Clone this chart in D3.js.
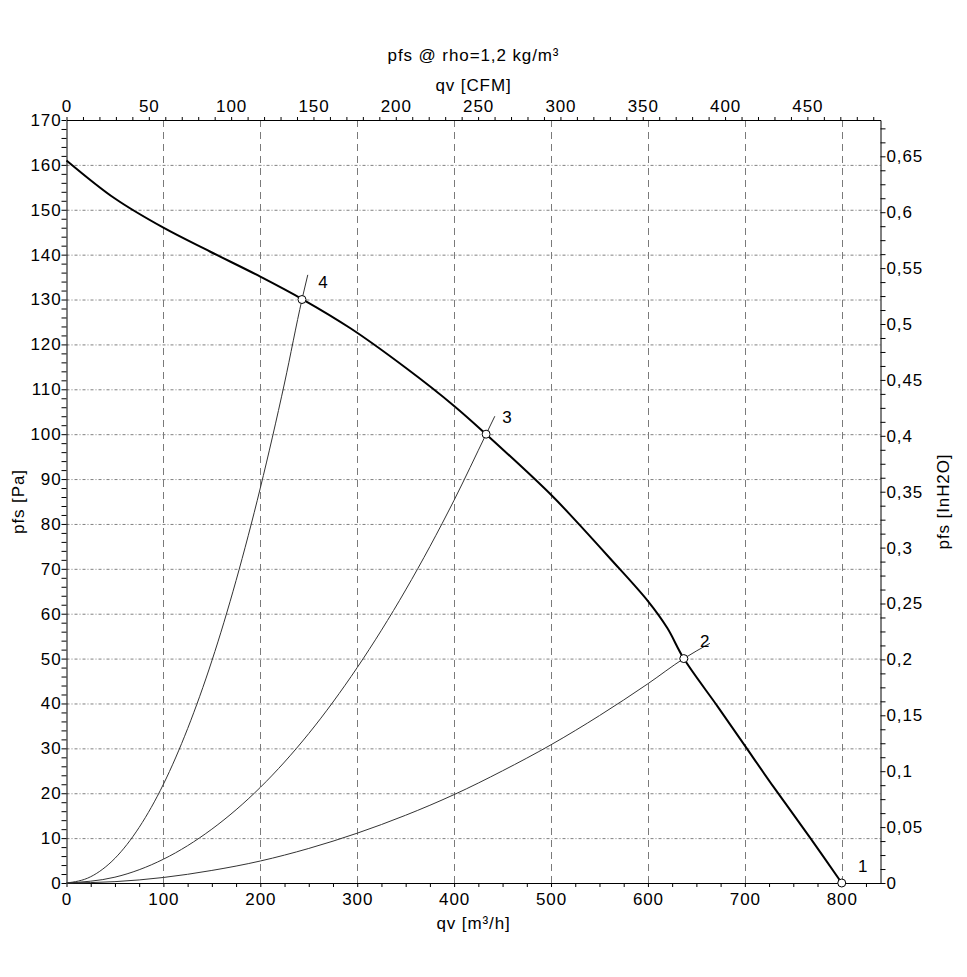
<!DOCTYPE html>
<html>
<head>
<meta charset="utf-8">
<script src="https://cdn.jsdelivr.net/npm/d3@7"></script>
<style>
  html, body { margin: 0; padding: 0; background: #fff; }
  svg { display: block; font-family: "Liberation Sans", Arial, sans-serif; }
</style>
</head>
<body>
<svg id="chart" width="967" height="977"></svg>
<script>
// ---- Data ----
// Fan curve: qv [m³/h] vs pfs [Pa]
const fanQ  = [0, 50, 100, 148, 200, 244, 293, 350, 400, 433, 500, 523, 561, 600, 620, 637, 672, 700, 730, 768, 800];
const fanP  = [161, 152.5, 146, 140.7, 135.1, 130, 123.6, 114.8, 106.3, 100, 86.5, 81.3, 72.3, 62.8, 56.8, 50, 39.3, 30.6, 21.3, 9.9, 0];

// System curves
const sys4Q = [0, 25, 50, 75, 100, 125, 150, 175, 200, 225, 243, 249];
const sys4P = [0, 1.4, 5.5, 12.4, 22, 34.4, 49.5, 67.4, 88, 111.4, 130, 135.5];
const sys3Q = [0, 50, 100, 150, 200, 250, 300, 350, 400, 433, 442];
const sys3P = [0, 1.3, 5.3, 12, 21.3, 33.3, 48, 65.3, 85.3, 100, 104];
const sys2Q = [0, 50, 100, 150, 200, 250, 300, 350, 400, 450, 500, 550, 600, 637, 664];
const sys2P = [0, 0.3, 1.23, 2.8, 4.9, 7.7, 11.1, 15.1, 19.7, 25, 30.8, 37.3, 44.4, 50, 53.4];

// Operating points
const opLabels = ["1", "2", "3", "4"];
const opQ = [800, 637, 433, 243];
const opP = [0, 50, 100, 130];

// Axis ticks
const xMajor = [0, 100, 200, 300, 400, 500, 600, 700, 800];
const yMajor = [0, 10, 20, 30, 40, 50, 60, 70, 80, 90, 100, 110, 120, 130, 140, 150, 160, 170];
const cfmMajor = [0, 50, 100, 150, 200, 250, 300, 350, 400, 450];
const inMajor = [0, 0.05, 0.1, 0.15, 0.2, 0.25, 0.3, 0.35, 0.4, 0.45, 0.5, 0.55, 0.6, 0.65];

const titleText = "pfs @ rho=1,2 kg/m³";
const xLabelTop = "qv [CFM]";
const xLabelBottom = "qv [m³/h]";
const yLabelLeft = "pfs [Pa]";
const yLabelRight = "pfs [InH2O]";

// ---- Layout ----
const L = 66.5, R = 880.5, T = 120, B = 883;
const M3H_PER_CFM = 1.69901;
const PA_PER_INH2O = 249.089;
const xMax = 840, yMax = 170;
const FS = 17, LS = "0.9px";

const svg = d3.select("#chart");
svg.append("rect").attr("width", 967).attr("height", 977).attr("fill", "#fff");

const x = d3.scaleLinear().domain([0, xMax]).range([L, R]);
const y = d3.scaleLinear().domain([0, yMax]).range([B, T]);
const xC = d3.scaleLinear().domain([0, xMax / M3H_PER_CFM]).range([L, R]);
const yI = d3.scaleLinear().domain([0, yMax / PA_PER_INH2O]).range([B, T]);

// ---- Grid ----
const grid = svg.append("g");
grid.selectAll("line.h").data(yMajor.filter(v => v > 0 && v < yMax)).join("line")
  .attr("x1", L).attr("x2", R)
  .attr("y1", d => y(d) + 0.5).attr("y2", d => y(d) + 0.5)
  .attr("stroke", "#808080").attr("stroke-width", 1)
  .attr("stroke-dasharray", "3,2,1,2");
grid.selectAll("line.v").data(xMajor.filter(v => v > 0)).join("line")
  .attr("x1", d => Math.round(x(d)) + 0.5).attr("x2", d => Math.round(x(d)) + 0.5)
  .attr("y1", T).attr("y2", B)
  .attr("stroke", "#7a7a7a").attr("stroke-width", 1)
  .attr("stroke-dasharray", "7,5");

// ---- Axes ----
function styleAxis(g) {
  g.selectAll("path.domain").attr("stroke", "#000").attr("stroke-width", 1);
  g.selectAll(".tick line").attr("stroke", "#000");
  g.selectAll("text").attr("font-size", FS).attr("fill", "#000")
    .attr("letter-spacing", LS)
    .attr("font-family", "'Liberation Sans', Arial, sans-serif");
}
const near = (v, arr) => arr.some(a => Math.abs(a - v) < 1e-9);

const bottomAxis = d3.axisBottom(x)
  .tickValues(d3.range(0, xMax + 0.001, 25))
  .tickFormat(d => near(d, xMajor) ? d3.format("d")(d) : "")
  .tickSize(4).tickSizeOuter(0).tickPadding(6);
svg.append("g").attr("transform", `translate(0,${B})`).call(bottomAxis).call(styleAxis);

const leftAxis = d3.axisLeft(y)
  .tickValues(d3.range(0, yMax + 0.001, 2))
  .tickFormat(d => near(d, yMajor) ? d3.format("d")(d) : "")
  .tickSize(5).tickSizeOuter(0).tickPadding(0);
svg.append("g").attr("transform", `translate(${L},0)`).call(leftAxis).call(styleAxis);

const topAxis = d3.axisTop(xC)
  .tickValues(d3.range(0, xMax / M3H_PER_CFM, 10))
  .tickFormat(d => near(d, cfmMajor) ? d3.format("d")(d) : "")
  .tickSize(3).tickSizeOuter(0).tickPadding(5);
svg.append("g").attr("transform", `translate(0,${T})`).call(topAxis).call(styleAxis);

const commaFmt = d => {
  const s = (+d.toFixed(4)).toString();
  return s.replace(".", ",");
};
const rightAxis = d3.axisRight(yI)
  .tickValues(d3.range(0, yMax / PA_PER_INH2O, 0.0125))
  .tickFormat(d => near(+d.toFixed(4), inMajor) ? commaFmt(d) : "")
  .tickSize(5).tickSizeOuter(0).tickPadding(1);
svg.append("g").attr("transform", `translate(${R},0)`).call(rightAxis).call(styleAxis);

// ---- Axis titles ----
const txt = (s, tx, ty, rot) => svg.append("text")
  .attr("transform", `translate(${tx},${ty})` + (rot ? ` rotate(${rot})` : ""))
  .attr("text-anchor", "middle").attr("dominant-baseline", "central")
  .attr("font-size", FS).attr("letter-spacing", LS).attr("fill", "#000").text(s);
const cx = (L + R) / 2;
txt(titleText, cx, 55);
txt(xLabelTop, cx, 85);
txt(xLabelBottom, cx, 923);
txt(yLabelLeft, 18, (T + B) / 2, -90);
txt(yLabelRight, 943, (T + B) / 2, -90);

// ---- Curves ----
const lineGen = d3.line().x(d => x(d[0])).y(d => y(d[1])).curve(d3.curveMonotoneX);
const zip = (a, b) => a.map((v, i) => [v, b[i]]);

[[sys4Q, sys4P], [sys3Q, sys3P], [sys2Q, sys2P]].forEach(([q, p]) => {
  svg.append("path").datum(zip(q, p)).attr("d", lineGen)
    .attr("fill", "none").attr("stroke", "#333").attr("stroke-width", 1);
});

const lineFan = d3.line().x(d => x(d[0])).y(d => y(d[1])).curve(d3.curveCatmullRom.alpha(0.5));
svg.append("path").datum(zip(fanQ, fanP)).attr("d", lineFan)
  .attr("fill", "none").attr("stroke", "#000").attr("stroke-width", 2);

// ---- Operating points ----
const ops = opLabels.map((l, i) => ({ l, q: opQ[i], p: opP[i] }));
svg.selectAll("circle.op").data(ops).join("circle")
  .attr("cx", d => x(d.q)).attr("cy", d => y(d.p)).attr("r", 4)
  .attr("fill", "#fff").attr("stroke", "#000").attr("stroke-width", 1);
svg.selectAll("text.op").data(ops).join("text")
  .attr("x", d => x(d.q) + 21).attr("y", d => y(d.p) - 17)
  .attr("text-anchor", "middle").attr("dominant-baseline", "central")
  .attr("font-size", FS).attr("fill", "#000").text(d => d.l);
</script>
</body>
</html>
